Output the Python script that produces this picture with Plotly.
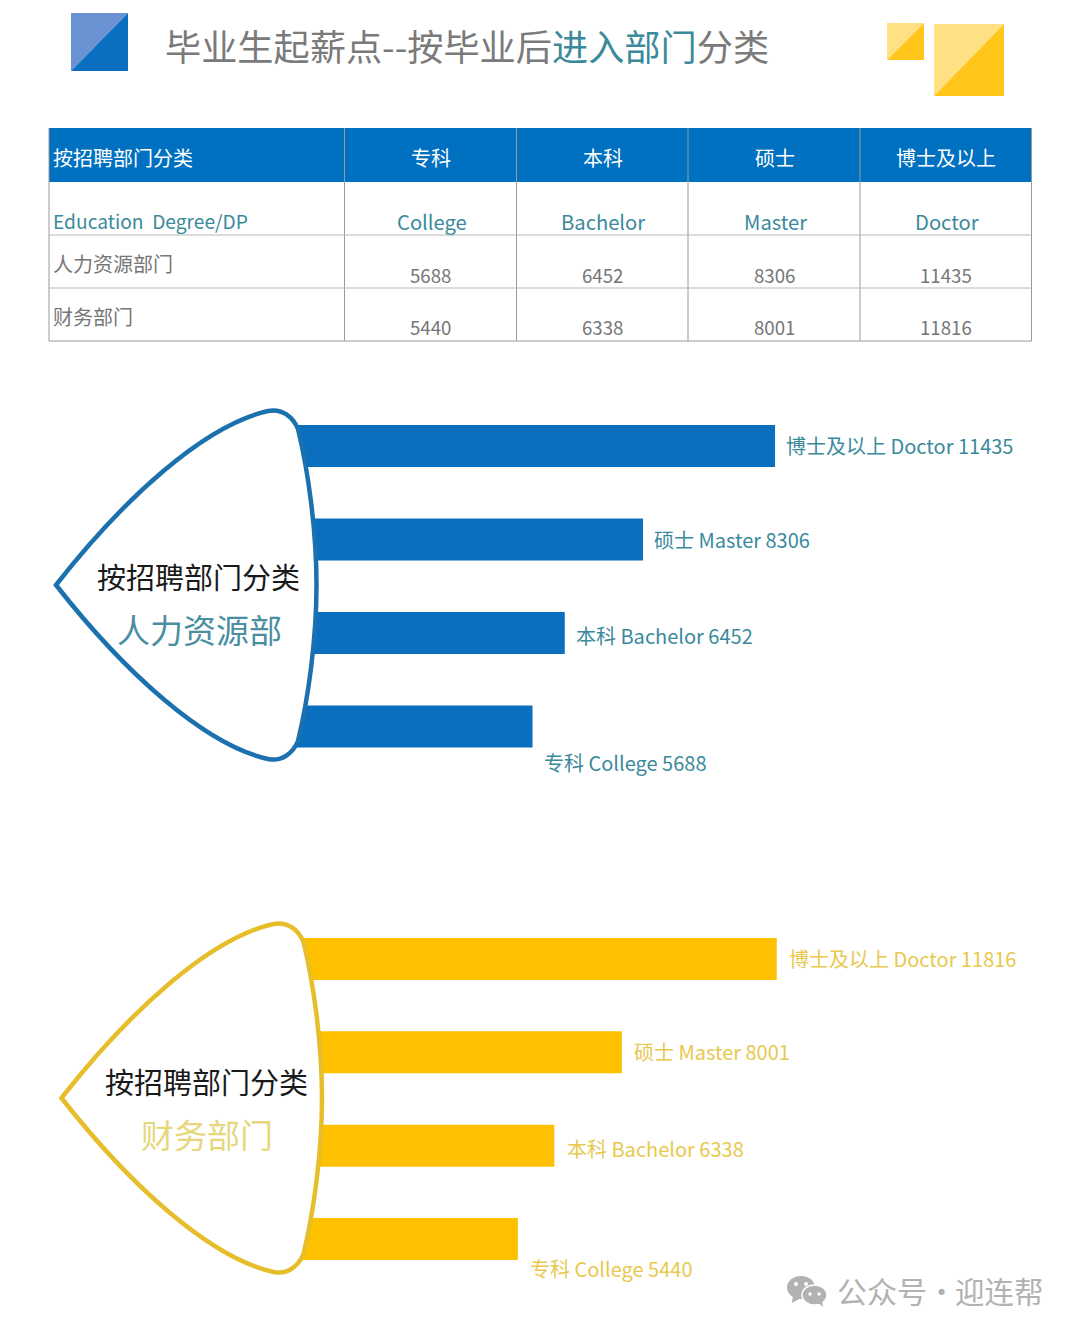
import plotly.graph_objects as go

# ---------- data ----------
degree_cn = ["专科", "本科", "硕士", "博士及以上"]
degree_en = ["College", "Bachelor", "Master", "Doctor"]
hr_values = [5688, 6452, 8306, 11435]
finance_values = [5440, 6338, 8001, 11816]
table_head = "按招聘部门分类"
table_sub = "Education  Degree/DP"
hr_name_table = "人力资源部门"
finance_name_table = "财务部门"
hr_name_badge = "人力资源部"
finance_name_badge = "财务部门"
title_gray_1 = "毕业生起薪点--按毕业后"
title_teal = "进入部门"
title_gray_2 = "分类"
watermark_parts = ["公众号", "·", "迎连帮"]
hr_label_shift = [-36, -2, 0, 1]
fin_label_shift = [-29, -3, 1, 0]

# ---------- style ----------
W, H = 1080, 1334
FONT = "Noto Sans CJK SC"
BLUE, YELLOW = "#0a6fbe", "#ffc000"
TEAL, GRAY = "#3a8a9c", "#767676"
LABEL_YEL = "#e8c84e"


def X(p):
    return p / W


def Y(p):
    return 1 - p / H


def path(points):
    out = []
    for cmd, *pts in points:
        out.append(cmd + " " + " ".join(f"{X(a):.5f},{Y(b):.5f}" for a, b in pts))
    return " ".join(out) + " Z"


shapes, notes = [], []


def text(px, py, s, size, color, anchor="center"):
    notes.append(dict(xref="paper", yref="paper", x=X(px), y=Y(py), text=s, showarrow=False,
                      xanchor=anchor, yanchor="middle", font=dict(family=FONT, size=size, color=color)))


def split_rect(x0, y0, x1, y1, light, dark):
    shapes.append(dict(type="path", xref="paper", yref="paper", line_width=0, fillcolor=light,
                       path=path([("M", (x0, y1)), ("L", (x0, y0)), ("L", (x1, y0))])))
    shapes.append(dict(type="path", xref="paper", yref="paper", line_width=0, fillcolor=dark,
                       path=path([("M", (x0, y1)), ("L", (x1, y0)), ("L", (x1, y1))])))


def ellipse(x0, y0, x1, y1, color, line=None):
    shapes.append(dict(type="circle", xref="paper", yref="paper", x0=X(x0), x1=X(x1), y0=Y(y0), y1=Y(y1),
                       fillcolor=color, line=dict(color=line or color, width=1.5 if line else 0)))


# header decoration
split_rect(71, 13, 128, 71, "#6b92d2", "#0a6fc0")
split_rect(887, 23, 924, 60, "#ffe083", "#ffc51a")
split_rect(934, 24, 1004, 96, "#ffe083", "#ffc51a")
notes.append(dict(xref="paper", yref="paper", x=X(162.5), y=Y(44.5), showarrow=False, xanchor="left", yanchor="middle",
                  font=dict(family=FONT, size=36.2, color="#7a7a7a"),
                  text=f'{title_gray_1}<span style="color:{TEAL}">{title_teal}</span>{title_gray_2}'))

# table
col_x = [49, 344.5, 516.5, 688, 860, 1031.5]
row_y = [128, 182, 235, 288, 341]
shapes.append(dict(type="rect", xref="paper", yref="paper", x0=X(col_x[0]), x1=X(col_x[-1]),
                   y0=Y(row_y[0]), y1=Y(row_y[1]), fillcolor="#0070c0", line_width=0))
for cx in col_x:
    shapes.append(dict(type="line", xref="paper", yref="paper", x0=X(cx), x1=X(cx), y0=Y(row_y[0]), y1=Y(row_y[-1]),
                       line=dict(color="#9a9a9a", width=1)))
for ry in row_y[2:]:
    shapes.append(dict(type="line", xref="paper", yref="paper", x0=X(col_x[0]), x1=X(col_x[-1]), y0=Y(ry), y1=Y(ry),
                       line=dict(color="#b8b8b8" if ry != row_y[-1] else "#9a9a9a", width=1)))
text(51, 157.5, table_head, 20, "white", "left")
text(51, 221, table_sub, 19.2, TEAL, "left")
text(51, 263.5, hr_name_table, 20, GRAY, "left")
text(51, 316.5, finance_name_table, 20, GRAY, "left")
for i in range(4):
    cx = (col_x[i + 1] + col_x[i + 2]) / 2 + 0.7
    text(cx, 157.5, degree_cn[i], 20, "white")
    text(cx + 0.5, 221.5, degree_en[i], 20.2, TEAL)
    text(cx, 274, str(hr_values[i]), 18.7, GRAY)
    text(cx, 326.5, str(finance_values[i]), 18.7, GRAY)

# teardrop badges (drawn over the start of the bars)
def badge(dx, dy, color):
    P = lambda a, b: (a + dx, b + dy)
    shapes.append(dict(type="path", xref="paper", yref="paper", fillcolor="white", line=dict(color=color, width=4.5),
                       path=path([
                           ("M", P(56, 585)),
                           ("C", P(125, 497), P(205, 425), P(268, 411)),
                           ("C", P(282, 408), P(293, 417), P(298, 429)),
                           ("C", P(308, 470), P(316.5, 530), P(316.5, 585)),
                           ("C", P(316.5, 640), P(308, 700), P(298, 741)),
                           ("C", P(293, 753), P(282, 762), P(268, 759)),
                           ("C", P(205, 745), P(125, 673), P(56, 585)),
                       ])))


badge(0, 0, "#1b70ae")
badge(5.5, 513, "#e6bd2a")
text(198.5, 575.5, table_head, 29, "#1a1a1a")
text(199, 629, hr_name_badge, 33, "#4a8ea2")
text(206.5, 1080.5, table_head, 29, "#1a1a1a")
text(207, 1134, finance_name_badge, 33, "#e6d77c")

# bars
fig = go.Figure()
cats = [f"{c} {e}" for c, e in zip(degree_cn, degree_en)]
order = cats[::-1]
fig.add_trace(go.Bar(x=hr_values, y=cats, orientation="h", marker=dict(color=BLUE, line_width=0),
                     xaxis="x", yaxis="y", showlegend=False))
fig.add_trace(go.Bar(x=finance_values, y=cats, orientation="h", marker=dict(color=YELLOW, line_width=0),
                     xaxis="x2", yaxis="y2", showlegend=False))

for vals, shifts, ax, ay, col, gap in [(hr_values, hr_label_shift, "x", "y", TEAL, 9),
                                       (finance_values, fin_label_shift, "x2", "y2", LABEL_YEL, 10.5)]:
    for c, v, s in zip(cats, vals, shifts):
        notes.append(dict(xref=ax, yref=ay, x=v, y=c, text=f"{c} {v}", showarrow=False, xanchor="left",
                          yanchor="middle", xshift=gap, yshift=s, font=dict(family=FONT, size=20, color=col)))

# watermark
WM = "#b2b2b2"
ellipse(787, 1276, 815, 1299, WM)
shapes.append(dict(type="path", xref="paper", yref="paper", fillcolor=WM, line_width=0,
                   path=path([("M", (793, 1295)), ("L", (792, 1303)), ("L", (801, 1298))])))
ellipse(802, 1285, 827, 1305, WM, "white")
shapes.append(dict(type="path", xref="paper", yref="paper", fillcolor=WM, line_width=0,
                   path=path([("M", (817, 1302)), ("L", (823, 1307)), ("L", (822, 1300))])))
for a, b, r in [(796, 1284, 2), (806, 1284, 2), (810, 1294, 1.7), (819, 1294, 1.7)]:
    ellipse(a - r, b - r, a + r, b + r, "white")
text(834.5, 1290, watermark_parts[0], 30, WM, "left")
text(941, 1290, watermark_parts[1], 29, WM)
text(1046, 1290, watermark_parts[2], 29.5, WM, "right")

axis_off = dict(visible=False, fixedrange=True)
fig.update_layout(
    width=W, height=H, margin=dict(l=0, r=0, t=0, b=0),
    paper_bgcolor="white", plot_bgcolor="rgba(0,0,0,0)",
    bargap=1 - 42 / 93.4,
    shapes=shapes, annotations=notes,
    xaxis=dict(axis_off, domain=[X(292.5), 1], range=[0, (W - 292.5) / 0.0422], anchor="y"),
    yaxis=dict(axis_off, domain=[Y(773.3), Y(399.3)], categoryorder="array", categoryarray=order,
               range=[3.5, -0.5], anchor="x"),
    xaxis2=dict(axis_off, domain=[X(297), 1], range=[0, (W - 297) / 0.0406], anchor="y2"),
    yaxis2=dict(axis_off, domain=[Y(1285.7), Y(912.3)], categoryorder="array", categoryarray=order,
                range=[3.5, -0.5], anchor="x2"),
)
fig.write_html("out.html", config=dict(displayModeBar=False),
               post_script="document.body.style.margin='0';")
